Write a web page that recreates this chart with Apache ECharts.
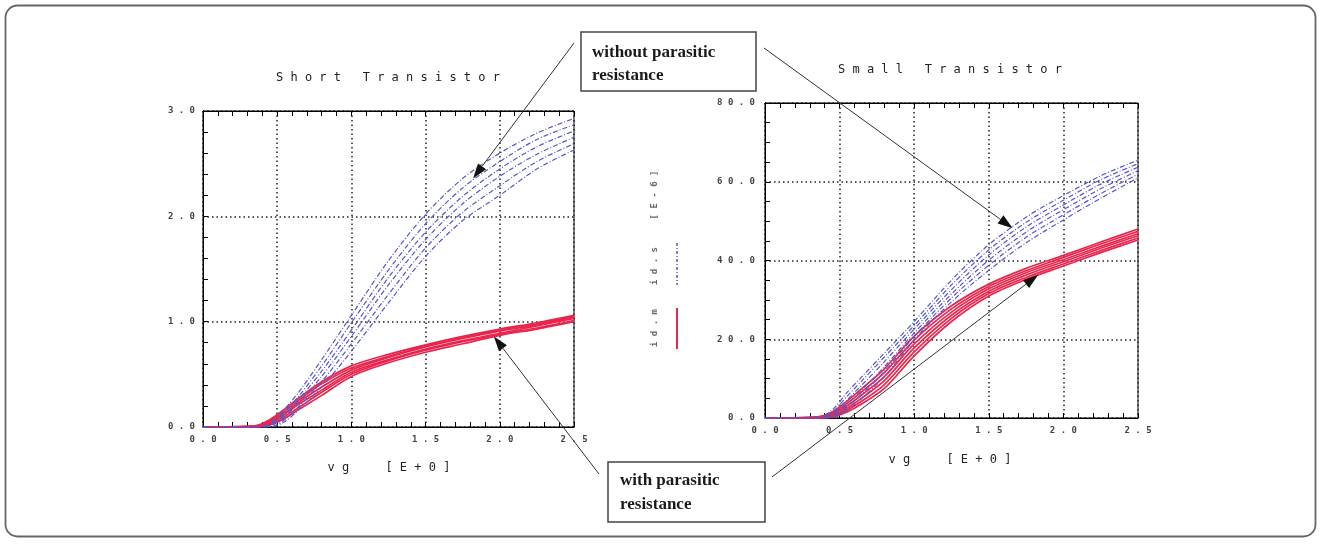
<!DOCTYPE html>
<html>
<head>
<meta charset="utf-8">
<script src="https://cdn.jsdelivr.net/npm/echarts@6/dist/echarts.min.js"></script>
<style>
  html, body { margin: 0; padding: 0; background: #fff; }
  #chart { width: 1322px; height: 544px; }
</style>
</head>
<body>
<div id="chart"></div>
<script>
// Gate voltage sample points (V)
const vg = [0, 0.35, 0.45, 0.55, 0.65, 0.8, 1.0, 1.25, 1.5, 1.75, 2.0, 2.25, 2.5];

// Short transistor, id.s (without parasitic resistance), E-3 scale
const shortIdS = [
  [0, 0, 0.03, 0.17, 0.34, 0.64, 1.06, 1.58, 2.02, 2.36, 2.60, 2.79, 2.93],
  [0, 0, 0.02, 0.14, 0.30, 0.58, 0.99, 1.49, 1.93, 2.27, 2.52, 2.73, 2.87],
  [0, 0, 0.01, 0.12, 0.27, 0.53, 0.92, 1.42, 1.85, 2.19, 2.45, 2.66, 2.81],
  [0, 0, 0.01, 0.10, 0.24, 0.48, 0.86, 1.35, 1.78, 2.12, 2.38, 2.59, 2.75],
  [0, 0, 0.00, 0.07, 0.20, 0.43, 0.79, 1.26, 1.70, 2.04, 2.29, 2.52, 2.69],
  [0, 0, 0.00, 0.05, 0.17, 0.38, 0.72, 1.18, 1.62, 1.96, 2.20, 2.45, 2.63]
];

// Short transistor, id.m (with parasitic resistance)
const shortIdM = [
  [0, 0.01, 0.07, 0.17, 0.28, 0.43, 0.58, 0.69, 0.78, 0.86, 0.93, 0.99, 1.06],
  [0, 0.01, 0.06, 0.15, 0.26, 0.41, 0.56, 0.67, 0.77, 0.85, 0.92, 0.98, 1.05],
  [0, 0.00, 0.05, 0.13, 0.24, 0.38, 0.54, 0.66, 0.76, 0.84, 0.91, 0.97, 1.04],
  [0, 0.00, 0.04, 0.12, 0.22, 0.35, 0.52, 0.64, 0.74, 0.82, 0.89, 0.96, 1.03],
  [0, 0.00, 0.03, 0.10, 0.19, 0.33, 0.50, 0.63, 0.73, 0.81, 0.88, 0.94, 1.01],
  [0, 0.00, 0.02, 0.08, 0.17, 0.30, 0.48, 0.61, 0.71, 0.79, 0.87, 0.93, 1.00]
];

// Small transistor, id.s (without parasitic resistance), E-6 scale
const smallIdS = [
  [0, 0.10, 2.0, 6.5, 10.5, 16.5, 24.5, 35.0, 44.0, 51.0, 56.5, 61.5, 65.5],
  [0, 0.05, 1.5, 5.5,  9.5, 15.5, 23.5, 33.8, 42.7, 49.7, 55.3, 60.5, 64.6],
  [0, 0.00, 1.0, 4.6,  8.4, 14.3, 22.6, 32.6, 41.4, 48.5, 54.1, 59.4, 63.7],
  [0, 0.00, 0.6, 3.6,  7.2, 13.0, 21.6, 31.5, 40.1, 47.2, 52.9, 58.2, 62.8],
  [0, 0.00, 0.3, 2.8,  6.1, 11.8, 20.7, 30.5, 38.8, 45.9, 51.6, 57.0, 61.9],
  [0, 0.00, 0.0, 2.0,  5.0, 10.5, 19.8, 29.5, 37.5, 44.5, 50.3, 55.8, 61.0]
];

// Small transistor, id.m (with parasitic resistance)
const smallIdM = [
  [0, 0.3, 1.5, 4.3, 7.5, 12.5, 20.8, 28.5, 34.0, 38.0, 41.3, 44.7, 48.0],
  [0, 0.2, 1.2, 3.7, 6.7, 11.5, 19.8, 27.7, 33.4, 37.4, 40.8, 44.2, 47.4],
  [0, 0.1, 0.9, 3.1, 5.9, 10.5, 18.8, 26.9, 32.8, 36.9, 40.2, 43.6, 46.8],
  [0, 0.0, 0.6, 2.5, 5.1,  9.5, 17.8, 26.1, 32.2, 36.3, 39.7, 43.1, 46.3],
  [0, 0.0, 0.4, 2.0, 4.3,  8.5, 16.8, 25.3, 31.6, 35.7, 39.1, 42.5, 45.7],
  [0, 0.0, 0.2, 1.5, 3.6,  7.5, 15.8, 24.5, 31.0, 35.2, 38.6, 42.0, 45.2]
];

// Plot titles, axis captions, legend entries and callouts
const plotTitles = ['Short Transistor', 'Small Transistor'];
const xCaption = 'vg  [E+0]';
const legendUnit = '[E-6]';
const legendNames = ['id.s', 'id.m'];
const calloutTop = ['without parasitic', 'resistance'];
const calloutBottom = ['with parasitic', 'resistance'];

// Points on the curves that the callout arrows point to (data coordinates)
const shortTargets = [[1.82, 2.36], [1.96, 0.86]];
const smallTargets = [[1.66, 48.2], [1.83, 36.3]];

const BLUE = '#5656cc';
const RED = '#e8264e';
const MONO = "'DejaVu Sans Mono', monospace";
const spaced = s => s.split('').join(' ');

const chart = echarts.init(document.getElementById('chart'), null, { renderer: 'canvas' });

const tickLabelStyle = {
  color: '#444', fontFamily: MONO, fontSize: 9, fontWeight: 'bold',
  formatter: v => spaced(v.toFixed(1))
};

function xAxisPair(gridIndex) {
  const common = {
    type: 'value', gridIndex, min: 0, max: 2.5, interval: 0.5,
    axisLine: { show: true, lineStyle: { color: '#000', width: 1 } },
    axisTick: { show: true, inside: true, length: 5, lineStyle: { color: '#000', width: 1 } },
    minorTick: { show: true, splitNumber: 5, length: 5, lineStyle: { color: '#000', width: 1 } }
  };
  return [
    Object.assign({}, common, {
      position: 'bottom',
      axisLabel: Object.assign({ margin: 8 }, tickLabelStyle),
      splitLine: { show: true, lineStyle: { color: '#222', width: 1.5, type: [1.5, 3] } }
    }),
    Object.assign({}, common, {
      position: 'top',
      axisLabel: { show: false },
      splitLine: { show: false }
    })
  ];
}

function yAxis(gridIndex, max, interval, minorSplit, margin) {
  return {
    type: 'value', gridIndex, min: 0, max, interval, position: 'left',
    axisLine: { show: true, lineStyle: { color: '#000', width: 1 } },
    axisTick: { show: true, inside: true, length: 5, lineStyle: { color: '#000', width: 1 } },
    minorTick: { show: true, splitNumber: minorSplit, length: 5, lineStyle: { color: '#000', width: 1 } },
    axisLabel: Object.assign({ margin }, tickLabelStyle),
    splitLine: { show: true, lineStyle: { color: '#222', width: 1.5, type: [1.5, 3] } }
  };
}

const series = [];
function addCurves(curves, xAxisIndex, yAxisIndex, lineStyle, z) {
  curves.forEach(c => {
    series.push({
      type: 'line', xAxisIndex, yAxisIndex, z,
      data: vg.map((x, i) => [x, c[i]]),
      showSymbol: false, smooth: 0.3, silent: true,
      lineStyle
    });
  });
}
const blueStyle = { color: BLUE, width: 1.2, type: [5, 2, 1, 2] };
const redStyle = { color: RED, width: 1.7 };
addCurves(shortIdM, 0, 0, redStyle, 3);
addCurves(shortIdS, 0, 0, blueStyle, 4);
addCurves(smallIdM, 2, 1, redStyle, 3);
addCurves(smallIdS, 2, 1, blueStyle, 4);

chart.setOption({
  animation: false,
  backgroundColor: '#fff',
  grid: [
    { left: 203, top: 111, width: 371, height: 316, show: true, borderColor: '#000', borderWidth: 1, backgroundColor: 'transparent' },
    { left: 765, top: 103, width: 373, height: 315, show: true, borderColor: '#000', borderWidth: 1, backgroundColor: 'transparent' }
  ],
  xAxis: [...xAxisPair(0), ...xAxisPair(1)],
  yAxis: [yAxis(0, 3, 1, 5, 8), yAxis(1, 80, 20, 4, 10)],
  series
});

// Callout arrows and annotation graphics
function arrow(from, to) {
  const dx = to[0] - from[0], dy = to[1] - from[1];
  const len = Math.hypot(dx, dy);
  const ux = dx / len, uy = dy / len;
  const L = 15, W = 5;
  const bx = to[0] - ux * L, by = to[1] - uy * L;
  return [
    { type: 'line', z: 20, shape: { x1: from[0], y1: from[1], x2: bx, y2: by },
      style: { stroke: '#333', lineWidth: 1 } },
    { type: 'polygon', z: 20,
      shape: { points: [to, [bx - uy * W, by + ux * W], [bx + uy * W, by - ux * W]] },
      style: { fill: '#111' } }
  ];
}

const px = (xi, yi, p) => chart.convertToPixel({ xAxisIndex: xi, yAxisIndex: yi }, p);
const tipShortBlue = px(0, 0, shortTargets[0]);
const tipShortRed = px(0, 0, shortTargets[1]);
const tipSmallBlue = px(2, 1, smallTargets[0]);
const tipSmallRed = px(2, 1, smallTargets[1]);

const plotTextStyle = { font: '12px ' + MONO, fill: '#222', align: 'center', verticalAlign: 'middle' };
const legendTextStyle = { font: 'bold 9px ' + MONO, fill: '#666', align: 'center', verticalAlign: 'middle' };
const calloutFont = "bold 17px 'Liberation Serif', 'Times New Roman', serif";

const graphic = [
  // outer frame
  { type: 'rect', z: 1, shape: { x: 5.5, y: 5.5, width: 1310, height: 531, r: 12 },
    style: { fill: 'none', stroke: '#666', lineWidth: 1.8 } },
  // plot titles
  { type: 'text', x: 388, y: 78, z: 10, style: Object.assign({ text: spaced(plotTitles[0]) }, plotTextStyle) },
  { type: 'text', x: 950, y: 70, z: 10, style: Object.assign({ text: spaced(plotTitles[1]) }, plotTextStyle) },
  // x axis captions
  { type: 'text', x: 389, y: 468, z: 10, style: Object.assign({ text: spaced(xCaption) }, plotTextStyle) },
  { type: 'text', x: 950, y: 460, z: 10, style: Object.assign({ text: spaced(xCaption) }, plotTextStyle) },
  // vertical legend
  { type: 'text', x: 655, y: 195, rotation: Math.PI / 2, z: 10,
    style: Object.assign({ text: spaced(legendUnit) }, legendTextStyle) },
  { type: 'text', x: 655, y: 266, rotation: Math.PI / 2, z: 10,
    style: Object.assign({ text: spaced(legendNames[0]) }, legendTextStyle) },
  { type: 'text', x: 655, y: 328, rotation: Math.PI / 2, z: 10,
    style: Object.assign({ text: spaced(legendNames[1]) }, legendTextStyle) },
  { type: 'line', z: 10, shape: { x1: 677, y1: 243, x2: 677, y2: 285 },
    style: { stroke: BLUE, lineWidth: 1.5, lineDash: [3, 2, 1, 2] } },
  { type: 'line', z: 10, shape: { x1: 677, y1: 308, x2: 677, y2: 349 },
    style: { stroke: RED, lineWidth: 2 } },
  // callout boxes
  { type: 'rect', z: 19, shape: { x: 581, y: 32, width: 175, height: 59 },
    style: { fill: '#fff', stroke: '#444', lineWidth: 1.5 } },
  { type: 'text', x: 592, y: 53, z: 21,
    style: { text: calloutTop[0], font: calloutFont, fill: '#1a1a1a', verticalAlign: 'middle' } },
  { type: 'text', x: 592, y: 76, z: 21,
    style: { text: calloutTop[1], font: calloutFont, fill: '#1a1a1a', verticalAlign: 'middle' } },
  { type: 'rect', z: 19, shape: { x: 608, y: 462, width: 157, height: 60 },
    style: { fill: '#fff', stroke: '#444', lineWidth: 1.5 } },
  { type: 'text', x: 620, y: 481, z: 21,
    style: { text: calloutBottom[0], font: calloutFont, fill: '#1a1a1a', verticalAlign: 'middle' } },
  { type: 'text', x: 620, y: 505, z: 21,
    style: { text: calloutBottom[1], font: calloutFont, fill: '#1a1a1a', verticalAlign: 'middle' } },
  ...arrow([574, 43], tipShortBlue),
  ...arrow([764, 48], tipSmallBlue),
  ...arrow([599, 474], tipShortRed),
  ...arrow([772, 477], tipSmallRed)
];

chart.setOption({ graphic });
</script>
</body>
</html>
